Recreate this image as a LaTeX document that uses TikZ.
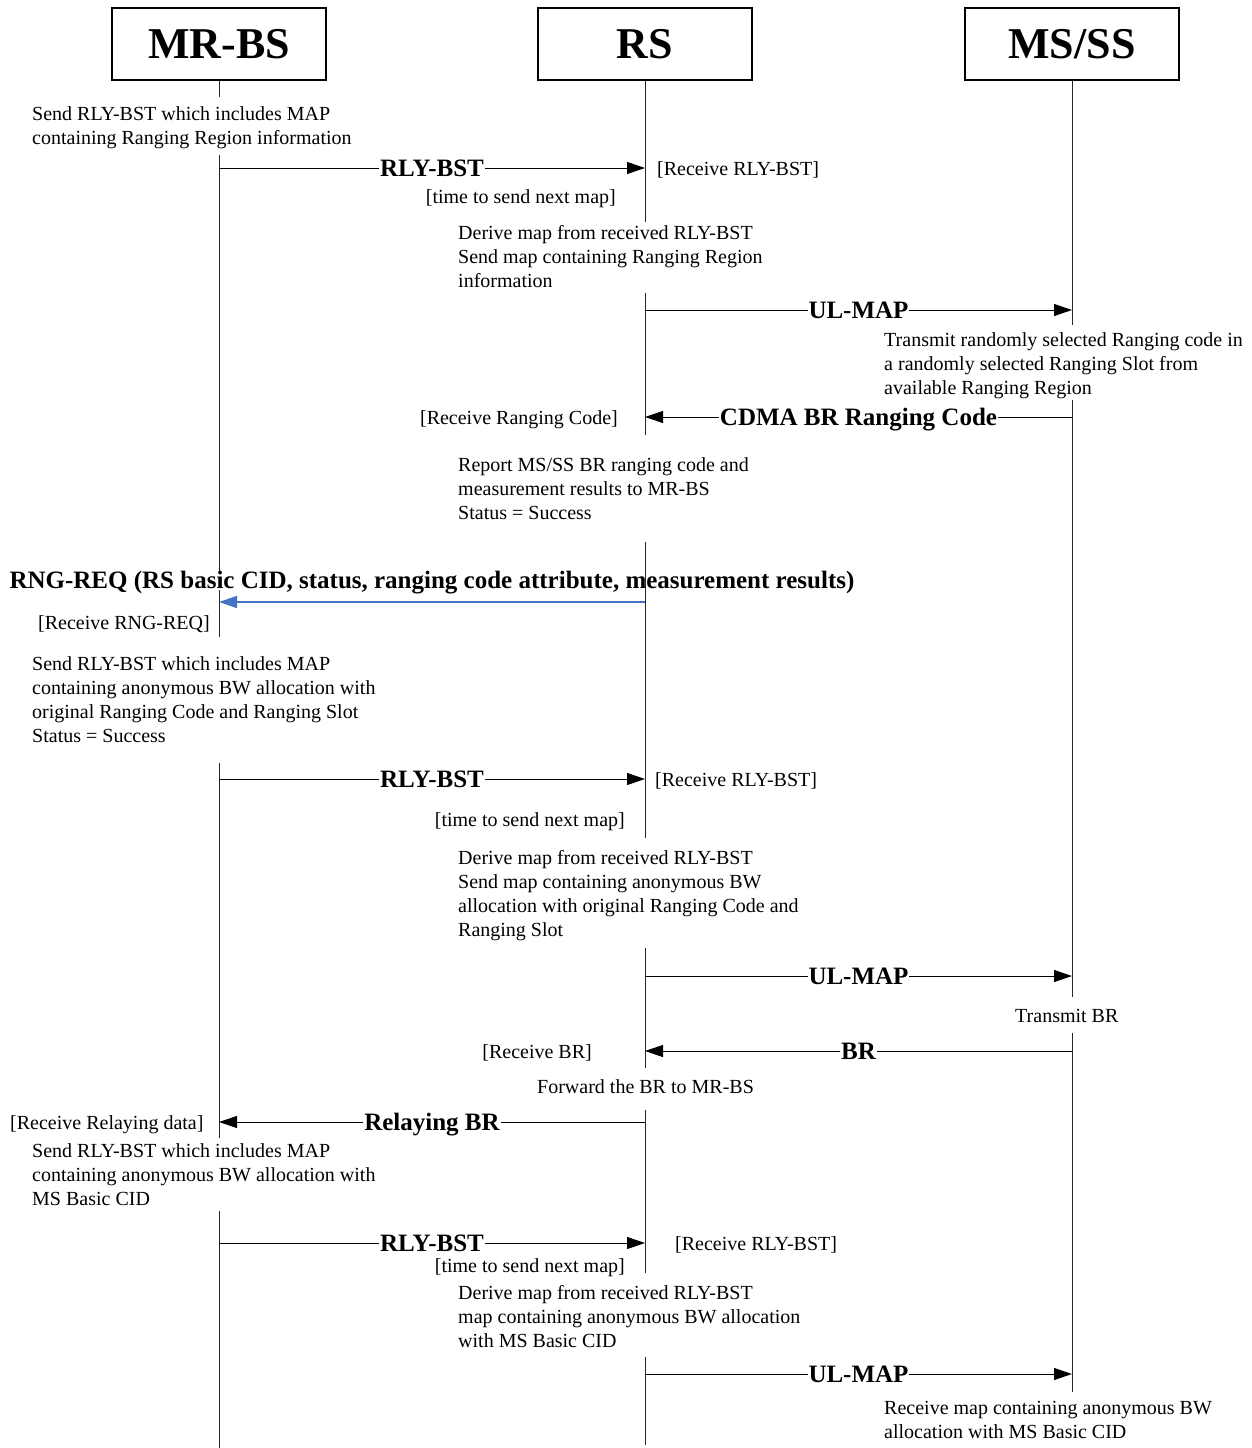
\documentclass[tikz,border=0pt]{standalone}
\usepackage{fontspec}
\setmainfont{Liberation Serif}
\usetikzlibrary{arrows.meta}
\begin{document}
\begin{tikzpicture}[x=1pt,y=-1pt,
  actor/.style={draw,line width=2.5pt,minimum width=214pt,minimum height=72pt,font=\fontsize{44}{48}\selectfont\bfseries,inner sep=0pt},
  life/.style={line width=1pt,black!85},
  msg/.style={line width=1pt,-{Triangle[length=18pt,width=12pt]}},
  bluemsg/.style={line width=1.5pt,draw=bluearr,-{Triangle[length=18pt,width=12pt,fill=bluearr]}},
  lbl/.style={fill=white,font=\fontsize{25}{28}\selectfont\bfseries,text height=17pt,text depth=0pt,inner xsep=1pt,inner ysep=1pt},
  txt/.style={font=\fontsize{20}{24}\selectfont,align=left,inner sep=0pt},
]
\definecolor{bluearr}{RGB}{68,114,196}
\useasboundingbox (0,0) rectangle (1252,1448);
% actors
\node[actor] (mrbs) at (219,44) {MR-BS};
\node[actor] (rs) at (645,44) {RS};
\node[actor] (ms) at (1072,44) {MS/SS};
% MR-BS lifeline
\draw[life] (mrbs.south) -- (219,97);
\draw[life] (219,155) -- (219,637);
\draw[life] (219,763) -- (219,1138);
\draw[life] (219,1211) -- (219,1448);
% MS/SS lifeline
\draw[life] (ms.south) -- (1072,325);
\draw[life] (1072,400) -- (1072,997);
\draw[life] (1072,1033) -- (1072,1392);
% RNG-REQ label (drawn before RS lifeline)
\node[lbl] (rngreq) at (432,580) {RNG-REQ (RS basic CID, status, ranging code attribute, measurement results)};
% RS lifeline
\draw[life] (rs.south) -- (645,222);
\draw[life] (645,293) -- (645,435);
\draw[life] (645,542) -- (645,838);
\draw[life] (645,948) -- (645,1068);
\draw[life] (645,1110) -- (645,1273);
\draw[life] (645,1357) -- (645,1445);

% message end points
\coordinate (m1a) at (219,168);  \coordinate (m1b) at (645,168);
\coordinate (m2a) at (645,310);  \coordinate (m2b) at (1072,310);
\coordinate (m3a) at (1072,417); \coordinate (m3b) at (645,417);
\coordinate (m4a) at (645,602);  \coordinate (m4b) at (219,602);
\coordinate (m5a) at (219,779);  \coordinate (m5b) at (645,779);
\coordinate (m6a) at (645,976);  \coordinate (m6b) at (1072,976);
\coordinate (m7a) at (1072,1051); \coordinate (m7b) at (645,1051);
\coordinate (m8a) at (645,1122); \coordinate (m8b) at (219,1122);
\coordinate (m9a) at (219,1243); \coordinate (m9b) at (645,1243);
\coordinate (m10a) at (645,1374); \coordinate (m10b) at (1072,1374);

\draw[msg] (m1a) -- node[lbl] (l1) {RLY-BST} (m1b);
\draw[msg] (m2a) -- node[lbl] (l2) {UL-MAP} (m2b);
\draw[msg] (m3a) -- node[lbl] (l3) {CDMA BR Ranging Code} (m3b);
\draw[bluemsg] (m4a) -- (m4b);
\draw[msg] (m5a) -- node[lbl] (l5) {RLY-BST} (m5b);
\draw[msg] (m6a) -- node[lbl] (l6) {UL-MAP} (m6b);
\draw[msg] (m7a) -- node[lbl] (l7) {BR} (m7b);
\draw[msg] (m8a) -- node[lbl] (l8) {Relaying BR} (m8b);
\draw[msg] (m9a) -- node[lbl] (l9) {RLY-BST} (m9b);
\draw[msg] (m10a) -- node[lbl] (l10) {UL-MAP} (m10b);

% texts (multi-line nodes: base anchor = baseline of last line)
\node[txt,anchor=base west] (t1) at (32,144) {Send RLY-BST which includes MAP\\containing Ranging Region information};
\node[txt,anchor=base west] (t2) at (657,175) {[Receive RLY-BST]};
\node[txt,anchor=base east] (t3) at (616,203) {[time to send next map]};
\node[txt,anchor=base west] (t4) at (458,287) {Derive map from received RLY-BST\\Send map containing Ranging Region\\information};
\node[txt,anchor=base west] (t5) at (884,394) {Transmit randomly selected Ranging code in\\a randomly selected Ranging Slot from\\available Ranging Region};
\node[txt,anchor=base east] (t6) at (618,424) {[Receive Ranging Code]};
\node[txt,anchor=base west] (t7) at (458,519) {Report MS/SS BR ranging code and\\measurement results to MR-BS\\Status = Success};
\node[txt,anchor=base east] (t8) at (210,629) {[Receive RNG-REQ]};
\node[txt,anchor=base west] (t9) at (32,742) {Send RLY-BST which includes MAP\\containing anonymous BW allocation with\\original Ranging Code and Ranging Slot\\Status = Success};
\node[txt,anchor=base west] (t10) at (655,786) {[Receive RLY-BST]};
\node[txt,anchor=base east] (t11) at (625,826) {[time to send next map]};
\node[txt,anchor=base west] (t12) at (458,936) {Derive map from received RLY-BST\\Send map containing anonymous BW\\allocation with original Ranging Code and\\Ranging Slot};
\node[txt,anchor=base west] (t13) at (1015,1022) {Transmit BR};
\node[txt,anchor=base east] (t14) at (592,1058) {[Receive BR]};
\node[txt,anchor=base west] (t15) at (537,1093) {Forward the BR to MR-BS};
\node[txt,anchor=base west] (t16) at (10,1129) {[Receive Relaying data]};
\node[txt,anchor=base west] (t17) at (32,1205) {Send RLY-BST which includes MAP\\containing anonymous BW allocation with\\MS Basic CID};
\node[txt,anchor=base west] (t18) at (675,1250) {[Receive RLY-BST]};
\node[txt,anchor=base east] (t19) at (625,1272) {[time to send next map]};
\node[txt,anchor=base west] (t20) at (458,1347) {Derive map from received RLY-BST\\map containing anonymous BW allocation\\with MS Basic CID};
\node[txt,anchor=base west] (t21) at (884,1438) {Receive map containing anonymous BW\\allocation with MS Basic CID};
\end{tikzpicture}
\end{document}
